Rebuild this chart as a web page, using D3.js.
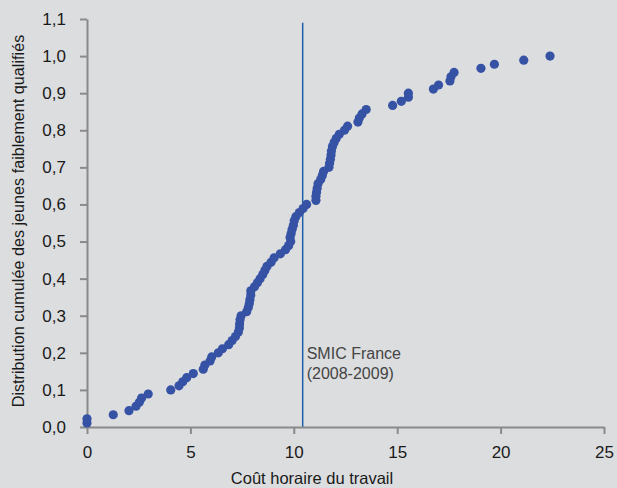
<!DOCTYPE html>
<html>
<head>
<meta charset="utf-8">
<script src="https://cdn.jsdelivr.net/npm/d3@7"></script>
<style>
  html, body { margin: 0; padding: 0; background: #dcdddf; }
  svg { display: block; font-family: 'Liberation Sans', Arial, sans-serif; }
  .axis path, .axis line { stroke: #8a8a8a; stroke-width: 2; }
  .axis text { font-size: 17px; fill: #1a1a1a; }
</style>
</head>
<body>
<div id="chart"></div>
<script>
'use strict';
// Data
const xTicks = [0, 5, 10, 15, 20, 25]
const yTicks = [0, 0.1, 0.2, 0.3, 0.4, 0.5, 0.6, 0.7, 0.8, 0.9, 1.0, 1.1]
const smic = 10.43
const smicLabel = ['SMIC France', '(2008-2009)']
const cout = [
    0, 0, 1.27, 2.03, 2.37, 2.53, 2.64, 2.96, 4.05, 4.45,
    4.63, 4.82, 5.14, 5.62, 5.7, 5.95, 6.03, 6.35, 6.55, 6.85,
    7.02, 7.18, 7.32, 7.37, 7.38, 7.4, 7.45, 7.72, 7.8, 7.85,
    7.88, 7.92, 7.92, 8.1, 8.24, 8.37, 8.5, 8.6, 8.7, 8.9,
    9.05, 9.35, 9.6, 9.75, 9.85, 9.82, 9.87, 9.92, 9.98, 10.02,
    10.1, 10.27, 10.45, 10.62, 11.07, 11.07, 11.1, 11.13, 11.17, 11.3,
    11.38, 11.44, 11.7, 11.73, 11.77, 11.8, 11.82, 11.87, 11.95, 12.05,
    12.2, 12.45, 12.6, 13.1, 13.17, 13.3, 13.5, 14.78, 15.2, 15.54,
    15.54, 16.75, 17.0, 17.55, 17.6, 17.75, 19.05, 19.7, 21.12, 22.39
]
const cumul = [
    0.011, 0.022, 0.033, 0.044, 0.056, 0.067, 0.078, 0.089, 0.1, 0.111,
    0.122, 0.133, 0.144, 0.156, 0.167, 0.178, 0.189, 0.2, 0.211, 0.222,
    0.233, 0.244, 0.256, 0.267, 0.278, 0.289, 0.3, 0.311, 0.322, 0.333,
    0.344, 0.356, 0.367, 0.378, 0.389, 0.4, 0.411, 0.422, 0.433, 0.444,
    0.456, 0.467, 0.478, 0.489, 0.5, 0.511, 0.522, 0.533, 0.544, 0.556,
    0.567, 0.578, 0.589, 0.6, 0.611, 0.622, 0.633, 0.644, 0.656, 0.667,
    0.678, 0.689, 0.7, 0.711, 0.722, 0.733, 0.744, 0.756, 0.767, 0.778,
    0.789, 0.8, 0.811, 0.822, 0.833, 0.844, 0.856, 0.867, 0.878, 0.889,
    0.9, 0.911, 0.922, 0.933, 0.944, 0.956, 0.967, 0.978, 0.989, 1.0
]

const W = 617
const H = 488
const x = d3.scaleLinear().domain([0, 25]).range([87, 604])
const y = d3.scaleLinear().domain([0, 1.1]).range([427, 19])
const fmt = d3.format('.1f')

const svg = d3.select('#chart').append('svg')
    .attr('width', W)
    .attr('height', H)

svg.append('rect')
    .attr('width', W)
    .attr('height', H)
    .attr('fill', '#dcdddf')

// SMIC line
svg.append('line')
    .attr('x1', x(smic)).attr('x2', x(smic))
    .attr('y1', y(0)).attr('y2', y(1.09))
    .attr('stroke', '#1f5fab')
    .attr('stroke-width', 1.5)

svg.append('text')
    .attr('x', x(smic) + 4)
    .attr('y', 359)
    .attr('font-size', 16)
    .attr('fill', '#444')
    .selectAll('tspan')
    .data(smicLabel)
    .join('tspan')
    .attr('x', x(smic) + 4)
    .attr('dy', (d, i) => i === 0 ? 0 : 20)
    .text(d => d)

// Axes
svg.append('g')
    .attr('class', 'axis')
    .attr('transform', `translate(0, ${y(0)})`)
    .call(d3.axisBottom(x).tickValues(xTicks).tickSize(7).tickSizeOuter(0).tickPadding(12))

svg.append('g')
    .attr('class', 'axis')
    .attr('transform', `translate(${x(0)}, 0)`)
    .call(d3.axisLeft(y).tickValues(yTicks).tickSize(7).tickSizeOuter(0).tickPadding(14)
        .tickFormat(d => fmt(d).replace('.', ',')))

// Points
svg.append('g')
    .selectAll('circle')
    .data(cout.map((c, i) => [c, cumul[i]]))
    .join('circle')
    .attr('cx', d => x(d[0]))
    .attr('cy', d => y(d[1]))
    .attr('r', 4.6)
    .attr('fill', '#3652a5')

// Axis titles
svg.append('text')
    .attr('x', 312)
    .attr('y', 484)
    .attr('text-anchor', 'middle')
    .attr('font-size', 16.5)
    .attr('fill', '#1a1a1a')
    .text('Coût horaire du travail')

svg.append('text')
    .attr('transform', `translate(24, 221) rotate(-90)`)
    .attr('text-anchor', 'middle')
    .attr('font-size', 16.2)
    .attr('fill', '#1a1a1a')
    .text('Distribution cumulée des jeunes faiblement qualifiés')
</script>
</body>
</html>
